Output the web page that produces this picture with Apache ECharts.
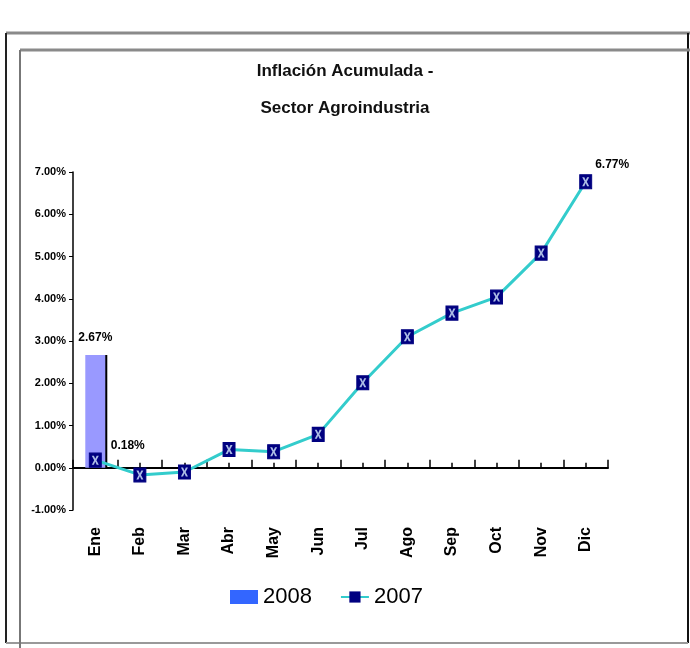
<!DOCTYPE html>
<html>
<head>
<meta charset="utf-8">
<script src="https://cdn.jsdelivr.net/npm/echarts@6/dist/echarts.min.js"></script>
<style>
  html, body { margin: 0; padding: 0; background: #fff; }
  #chart { width: 690px; height: 648px; }
</style>
</head>
<body>
<div id="chart"></div>
<script>
(function() {
  'use strict';

  var months = ['Ene','Feb','Mar','Abr','May','Jun','Jul','Ago','Sep','Oct','Nov','Dic'];
  var values2008 = [2.67];
  var values2007 = [0.18, -0.17, -0.10, 0.43, 0.38, 0.79, 2.01, 3.10, 3.66, 4.04, 5.08, 6.77];
  var yTicks = { min: -1, max: 7, step: 1 };

  var narrow = "'Liberation Sans Narrow', 'Arial Narrow', 'Liberation Sans', Arial, sans-serif";
  var xMark = 'path://M0,0 L3,0 L5,3.5 L7,0 L10,0 L6.6,5 L10,10 L7,10 L5,6.5 L3,10 L0,10 L3.4,5 Z';

  var gridTop = 172, gridBottom = 138, chartH = 648;
  // distance from the bottom of the grid up to the 0% line, so the second tick row sits on it
  var plotH = chartH - gridTop - gridBottom;
  var zeroOffset = -plotH * (0 - yTicks.min) / (yTicks.max - yTicks.min);

  function pct(v) { return v.toFixed(2) + '%'; }

  var lineData = values2007.map(function(v, i) {
    if (i === 0 || i === values2007.length - 1) {
      return { value: v, label: { show: true, position: 'right', offset: [i === 0 ? 4 : -2, i === 0 ? -14 : -17], formatter: function(p) { return pct(p.value); }, color: '#000', fontWeight: 'bold', fontSize: 12, fontFamily: narrow } };
    }
    return v;
  });

  var chart = echarts.init(document.getElementById('chart'), null, { renderer: 'canvas' });

  chart.setOption({
    animation: false,
    title: {
      text: 'Inflación Acumulada -\nSector Agroindustria',
      left: 'center',
      top: 48,
      textStyle: { fontSize: 17, fontWeight: 'bold', fontFamily: narrow, color: '#111', lineHeight: 37 }
    },
    graphic: [
      { type: 'line', shape: { x1: 6, y1: 33, x2: 690, y2: 33 }, style: { stroke: '#8a8a8a', lineWidth: 3 } },
      { type: 'line', shape: { x1: 6, y1: 33, x2: 6, y2: 643 }, style: { stroke: '#222', lineWidth: 2 } },
      { type: 'line', shape: { x1: 688, y1: 33, x2: 688, y2: 643 }, style: { stroke: '#111', lineWidth: 2 } },
      { type: 'line', shape: { x1: 6, y1: 643, x2: 688, y2: 643 }, style: { stroke: '#999', lineWidth: 2 } },
      { type: 'line', shape: { x1: 20, y1: 50, x2: 690, y2: 50 }, style: { stroke: '#8a8a8a', lineWidth: 3 } },
      { type: 'line', shape: { x1: 20, y1: 50, x2: 20, y2: 648 }, style: { stroke: '#777', lineWidth: 2 } }
    ],
    legend: {
      data: [{ name: '2008', icon: 'rect' }, { name: '2007' }],
      left: 225,
      top: 581,
      itemWidth: 28,
      itemHeight: 14,
      itemGap: 28,
      textStyle: { fontSize: 22, fontFamily: narrow, color: '#000' }
    },
    grid: { left: 73, right: 82, top: gridTop, bottom: gridBottom },
    xAxis: [
      {
        type: 'category', data: months, boundaryGap: true,
        axisLine: { onZero: true, lineStyle: { color: '#000', width: 2 } },
        axisTick: { show: true, inside: true, length: 8, lineStyle: { color: '#000', width: 1.5 } },
        axisLabel: { show: false }
      },
      {
        type: 'category', data: months, boundaryGap: true, position: 'bottom', offset: zeroOffset,
        axisLine: { show: false, onZero: false },
        axisTick: { show: true, inside: true, alignWithLabel: true, length: 5, lineStyle: { color: '#000', width: 1.5 } },
        axisLabel: { show: false }
      },
      {
        type: 'category', data: months, boundaryGap: true, position: 'bottom',
        axisLine: { show: false, onZero: false },
        axisTick: { show: false },
        axisLabel: { interval: 0, rotate: 90, margin: 17, fontSize: 16, fontWeight: 'bold', fontFamily: narrow, color: '#000' }
      }
    ],
    yAxis: {
      type: 'value', min: yTicks.min, max: yTicks.max, interval: yTicks.step,
      axisLine: { show: true, lineStyle: { color: '#000', width: 1.5 } },
      axisTick: { show: true, length: 4, lineStyle: { color: '#000' } },
      splitLine: { show: false },
      axisLabel: { formatter: function(v) { return pct(v); }, fontSize: 11, fontWeight: 'bold', fontFamily: narrow, color: '#000', margin: 7 }
    },
    series: [
      {
        name: '2008', type: 'bar', xAxisIndex: 0, barWidth: 20,
        itemStyle: { color: '#3366ff' },
        data: values2008.map(function(v) {
          return { value: v, itemStyle: { color: '#9999ff', shadowColor: '#000', shadowOffsetX: 2, shadowOffsetY: 0, shadowBlur: 0 } };
        }),
        label: { show: true, position: 'top', distance: 11, formatter: function(p) { return pct(p.value); }, color: '#000', fontWeight: 'bold', fontSize: 12, fontFamily: narrow },
        z: 1
      },
      {
        name: '2007', type: 'line', xAxisIndex: 0, data: lineData,
        symbol: 'rect', symbolSize: [12, 14],
        itemStyle: { color: '#000080', borderColor: '#000080' },
        lineStyle: { color: '#33cccc', width: 3 },
        z: 3
      },
      {
        name: 'marca', type: 'scatter', xAxisIndex: 0, data: values2007,
        symbol: xMark, symbolSize: [7, 9], silent: true,
        itemStyle: { color: '#d8ecff' },
        z: 4
      }
    ]
  });
})();
</script>
</body>
</html>
